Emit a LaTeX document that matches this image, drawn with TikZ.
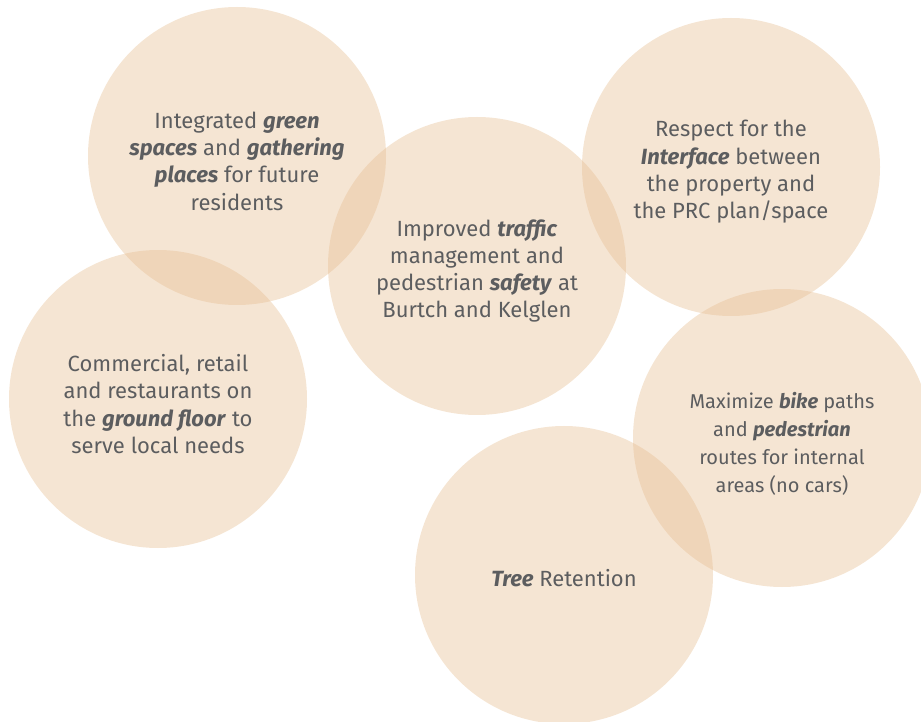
\documentclass[tikz,border=0pt]{standalone}
\usepackage{fontspec}
\setmainfont{Fira Sans}
\usepackage{tikz}

\definecolor{peach}{RGB}{230,190,145}
\definecolor{goaltext}{RGB}{92,93,95}
\newcommand{\kw}[1]{\textbf{\textit{#1}}}

\begin{document}
\begin{tikzpicture}[x=1pt, y=1pt,
	goal/.style={circle, fill=peach, fill opacity=0.4, draw=none,
		minimum size=298pt, inner sep=0pt},
	goallabel/.style={align=center, text=goaltext, inner sep=0pt,
		font=\fontsize{22}{27.3}\selectfont},
	smallgoallabel/.style={goallabel, font=\fontsize{20}{28}\selectfont}
]
\useasboundingbox (0,0) rectangle (921,721);

% the six circles
\node[goal] (green) at (237,565) {};
\node[goal] (traffic) at (477,455) {};
\node[goal] (interface) at (731,554) {};
\node[goal] (retail) at (158,322) {};
\node[goal] (bike) at (782,283) {};
\node[goal] (tree) at (564,146) {};

% their texts, a little below centre
\node[goallabel] at ([yshift=-5pt]green.center) {Integrated \kw{green}\\ \kw{spaces} and \kw{gathering}\\ \kw{places} for future\\ residents};
\node[goallabel] at ([yshift=-5pt]traffic.center) {Improved \kw{traffic}\\ management and\\ pedestrian \kw{safety} at\\ Burtch and Kelglen};
\node[goallabel] at ([yshift=-5pt]interface.center) {Respect for the\\ \kw{Interface} between\\ the property and\\ the PRC plan/space};
\node[goallabel] at ([yshift=-5pt]retail.center) {Commercial, retail\\ and restaurants on\\ the \kw{ground floor} to\\ serve local needs};
\node[smallgoallabel] at ([yshift=-6pt]bike.center) {Maximize \kw{bike} paths\\ and \kw{pedestrian}\\ routes for internal\\ areas (no cars)};
\node[goallabel] at ([yshift=-3pt]tree.center) {\kw{Tree} Retention};
\end{tikzpicture}
\end{document}
